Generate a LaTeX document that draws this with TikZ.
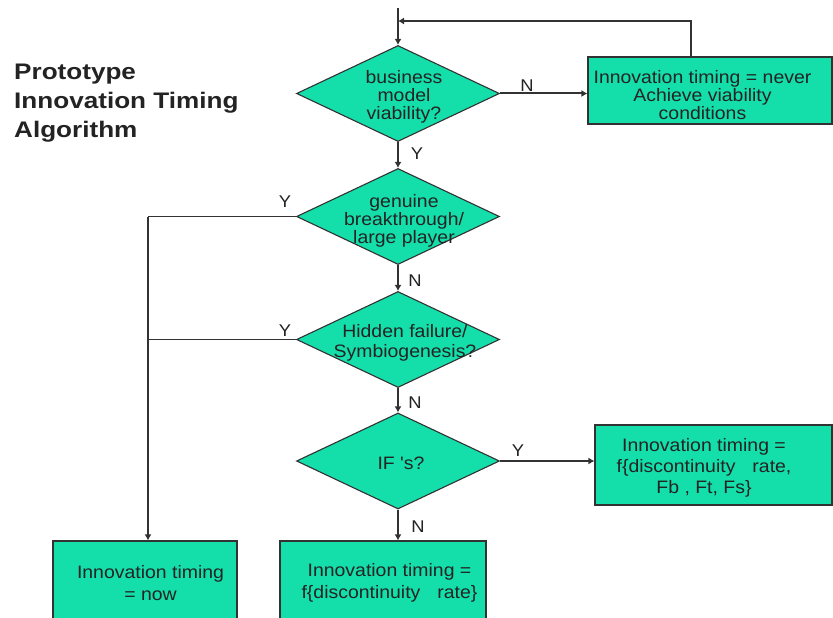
\documentclass[tikz,border=0pt]{standalone}
\usepackage{fontspec}
\setmainfont{Liberation Sans}
\newfontfamily\flowfont[FakeStretch=1.08]{Liberation Sans}
\newfontfamily\titlefont[FakeStretch=1.16]{Liberation Sans}
\usetikzlibrary{shapes.geometric,arrows.meta}
\definecolor{flowfill}{RGB}{20,222,170}
\definecolor{flowline}{RGB}{50,50,50}
\definecolor{flowtextc}{RGB}{35,35,35}
\tikzset{
  decision/.style={diamond, draw=flowline, line width=1.1pt, fill=flowfill,
    minimum width=203pt, minimum height=96pt, inner sep=0pt},
  outcome/.style={rectangle, draw=flowline, line width=1.1pt, fill=flowfill, inner sep=0pt},
  flowtext/.style={align=center, text=flowtextc, font=\flowfont\fontsize{18}{18}\selectfont, inner sep=0pt},
  tip/.style={-{Latex[length=6pt,width=7pt]}},
  mainflow/.style={draw=flowline, line width=2pt, tip},
  sideflow/.style={draw=flowline, line width=1.2pt},
  sidearrow/.style={draw=flowline, line width=1.2pt, tip},
  tag/.style={font=\flowfont\fontsize{17}{17}\selectfont, text=flowtextc, inner sep=0pt}
}
\newcommand{\rategap}{\hspace{17pt}}
\begin{document}
\begin{tikzpicture}[x=1pt,y=-1pt]
\useasboundingbox (0,0) rectangle (833,618);
\clip (0,0) rectangle (833,618);
\fill[white] (0,0) rectangle (833,618);

% title
\node[anchor=west, align=left, inner sep=0pt,
      font=\titlefont\fontsize{22.5}{29}\selectfont\bfseries, text=flowtextc] (title) at (14,103)
  {Prototype\\Innovation Timing\\Algorithm};

% decisions
\node[decision, label={[flowtext, xshift=6pt, yshift=-3.5pt]center:business\\model\\viability?}] (d1) at (398,93.5) {};
\node[decision, label={[flowtext, xshift=6pt, yshift=-4.5pt]center:genuine\\breakthrough/\\large player}] (d2) at (398,216.5) {};
\node[decision, label={[flowtext, xshift=7pt, yshift=-3.5pt, font=\flowfont\fontsize{18}{20}\selectfont]center:Hidden failure/\\Symbiogenesis?}] (d3) at (398,339.5) {};
\node[decision, label={[flowtext, xshift=3pt, yshift=-2pt]center:IF {\char"27}s?}] (d4) at (398,461) {};

% outcomes
\node[outcome, minimum width=244pt, minimum height=67pt,
      label={[flowtext, xshift=-7.5pt, yshift=-4.5pt]center:Innovation timing = never\\Achieve viability\\conditions}] (b1) at (710,90.5) {};
\node[outcome, minimum width=237pt, minimum height=80pt,
      label={[flowtext, xshift=-9.5pt, yshift=-3pt, font=\flowfont\fontsize{18}{21}\selectfont]center:Innovation timing =\\f\{discontinuity\rategap rate,\\Fb , Ft, Fs\}}] (b4) at (713.5,465) {};
\node[outcome, minimum width=206pt, minimum height=99pt,
      label={[flowtext, xshift=6.5pt, yshift=7.5pt, font=\flowfont\fontsize{18}{22}\selectfont]center:Innovation timing =\\f\{discontinuity\rategap rate\}}] (b5) at (383,590.5) {};
\node[outcome, minimum width=184pt, minimum height=99pt,
      label={[flowtext, xshift=5.5pt, yshift=7.5pt, font=\flowfont\fontsize{18}{22}\selectfont]center:Innovation timing\\= now}] (b6) at (145,590.5) {};

% entry and loop-back
\coordinate (entry) at (398,8);
\coordinate (loopcorner) at (691,21);
\coordinate (loopjoin) at (398,21);
\draw[mainflow] (entry) -- (d1.north);
\draw[sidearrow] (b1.north -| loopcorner) -- (loopcorner) -- (loopjoin);

% main column
\draw[mainflow] (d1.east) -- (d1.east -| b1.west);
\draw[mainflow] (d1.south) -- (d2.north);
\draw[mainflow] (d2.south) -- (d3.north);
\draw[mainflow] (d3.south) -- (d4.north);
\draw[mainflow] (d4.east) -- (d4.east -| b4.west);
\draw[mainflow] (d4.south) -- (d4.south |- b5.north);

% Y branches to the left
\coordinate (bus2) at (148,216.5);
\coordinate (bus3) at (148,339.5);
\draw[sideflow] (d2.west) -- (bus2);
\draw[sideflow] (d3.west) -- (bus3);
\draw[sidearrow] (bus2) -- (bus2 |- b6.north);

% branch tags
\node[tag] (t1n) at (527,86) {N};
\node[tag] (t1y) at (417,154) {Y};
\node[tag] (t2y) at (285,202) {Y};
\node[tag] (t2n) at (415,281) {N};
\node[tag] (t3y) at (285,331) {Y};
\node[tag] (t3n) at (415,403) {N};
\node[tag] (t4y) at (518,451) {Y};
\node[tag] (t4n) at (418,527) {N};
\end{tikzpicture}
\end{document}
